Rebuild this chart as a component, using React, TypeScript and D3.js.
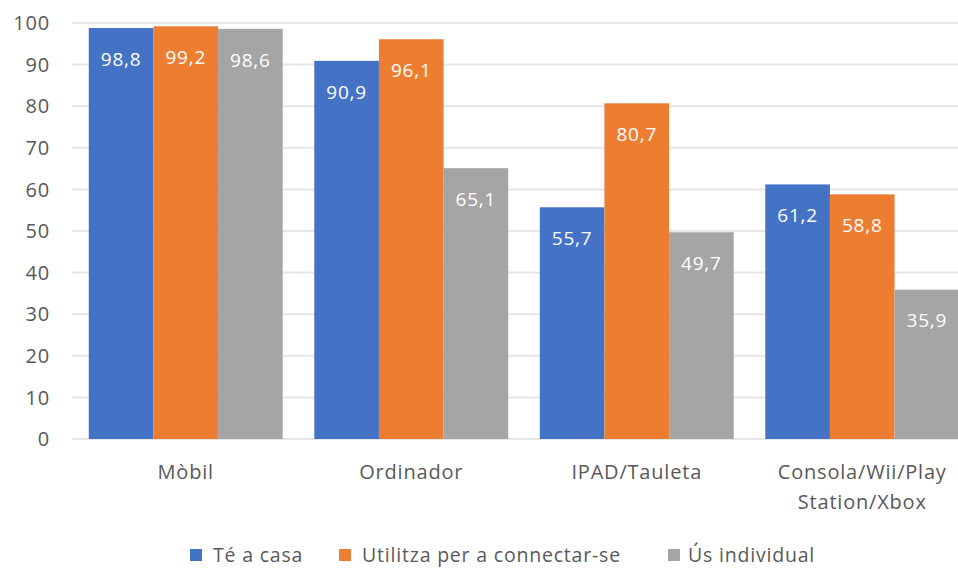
import React from "react";
import * as d3 from "d3";

const categories = ["Mòbil", "Ordinador", "IPAD/Tauleta", "Consola/Wii/Play Station/Xbox"];
const categoryLines = [["Mòbil"], ["Ordinador"], ["IPAD/Tauleta"], ["Consola/Wii/Play", "Station/Xbox"]];
const seriesNames = ["Té a casa", "Utilitza per a connectar-se", "Ús individual"];
const teACasa = [98.8, 90.9, 55.7, 61.2];
const utilitza = [99.2, 96.1, 80.7, 58.8];
const usIndividual = [98.6, 65.1, 49.7, 35.9];
const yTicks = [0, 10, 20, 30, 40, 50, 60, 70, 80, 90, 100];
const colors = ["#4472C4", "#ED7D31", "#A5A5A5"];

const W = 958;
const H = 568;
const FONT = "'Open Sans', 'DejaVu Sans', sans-serif";

export default function App() {
  const seriesValues = [teACasa, utilitza, usIndividual];
  const y = d3.scaleLinear().domain([0, 100]).range([439, 23]);
  const x0 = d3.scaleBand<string>().domain(categories).range([73, 975]).padding(0);
  const bw = x0.bandwidth();
  const pad = bw * 0.07;
  const x1 = d3.scaleBand<number>().domain([0, 1, 2]).range([pad, bw - pad]).padding(0);
  const fmt = (v: number) => v.toFixed(1).replace(".", ",");

  const legendItems = [
    { sq: 190, tx: 213 },
    { sq: 339, tx: 362 },
    { sq: 668, tx: 688 },
  ];

  return (
    <svg width={W} height={H} style={{ position: "absolute", left: 0, top: 0, background: "#fff" }}
      fontFamily={FONT} letterSpacing={0.8}>
      {yTicks.map((t) => (
        <g key={t}>
          <line x1={72} x2={W} y1={y(t)} y2={y(t)} stroke="#E6E6E6" strokeWidth={2} />
          <text x={50} y={y(t)} dy="0.36em" textAnchor="end" fontSize={20} fill="#595959">{t}</text>
        </g>
      ))}
      {categories.map((c, ci) => (
        <g key={c} transform={`translate(${x0(c)},0)`}>
          {seriesValues.map((vals, si) => (
            <g key={si}>
              <rect x={x1(si)} y={y(vals[ci])} width={x1.bandwidth()} height={y(0) - y(vals[ci])} fill={colors[si]} />
              <text x={(x1(si) as number) + x1.bandwidth() / 2} y={y(vals[ci]) + 31} dy="0.36em"
                textAnchor="middle" fontSize={19} fill="#FFFFFF">{fmt(vals[ci])}</text>
            </g>
          ))}
          {categoryLines[ci].map((ln, li) => (
            <text key={li} x={bw / 2} y={472 + li * 30} dy="0.36em" textAnchor="middle" fontSize={20} fill="#595959">{ln}</text>
          ))}
        </g>
      ))}
      {seriesNames.map((s, i) => (
        <g key={s}>
          <rect x={legendItems[i].sq} y={549} width={12} height={12} fill={colors[i]} />
          <text x={legendItems[i].tx} y={555} dy="0.36em" fontSize={19.5} fill="#595959">{s}</text>
        </g>
      ))}
    </svg>
  );
}
